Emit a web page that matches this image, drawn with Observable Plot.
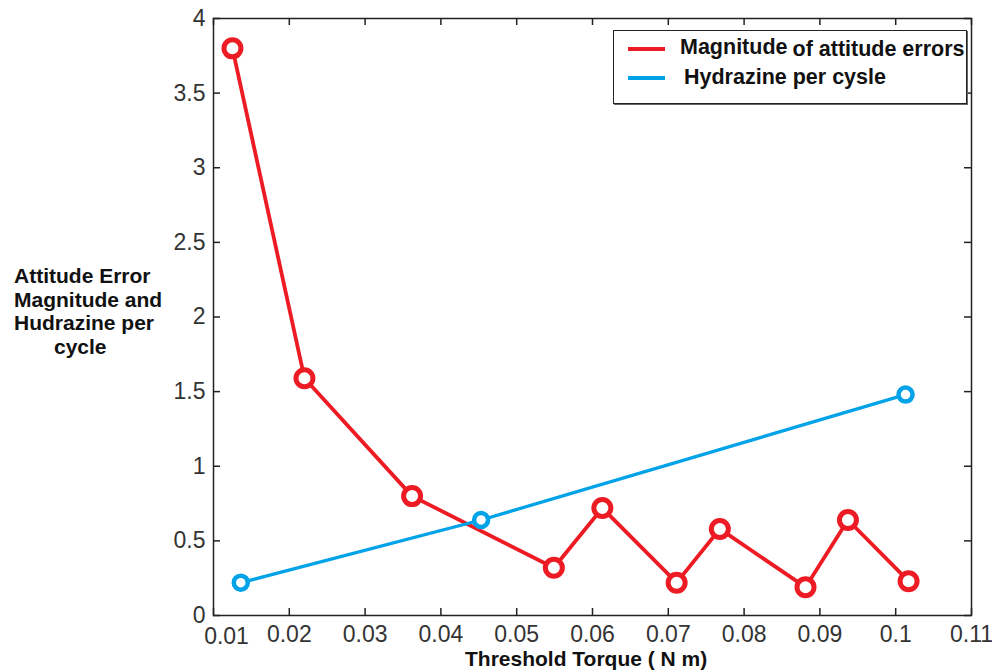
<!DOCTYPE html>
<html>
<head>
<meta charset="utf-8">
<script src="https://cdn.jsdelivr.net/npm/d3@7"></script>
<script src="https://cdn.jsdelivr.net/npm/@observablehq/plot@0.6"></script>
<style>
  html, body { margin: 0; padding: 0; background: #fff; }
  #wrap { position: relative; width: 992px; height: 672px; overflow: hidden; font-family: "Liberation Sans", Arial, sans-serif; }
  #chart { position: absolute; left: 0; top: 0; }
  .lbl { position: absolute; font-weight: bold; color: #111; white-space: nowrap; font-size: 21px; }
  .leg { font-size: 21.5px; }
  #legend { position: absolute; left: 613px; top: 30px; width: 352px; height: 72px; border: 1.5px solid #222; box-shadow: 1px 1px 0 #666; background: #fff; }
  .swatch { position: absolute; left: 14px; width: 37px; height: 4px; }
</style>
</head>
<body>
<div id="wrap">
  <div id="chart"></div>
  <div class="lbl" style="left:14px; top:264px; line-height:23.7px;">Attitude Error<br>Magnitude and<br>Hudrazine per<br><span style="padding-left:40px">cycle</span></div>
  <div class="lbl" style="left:465px; top:647px;">Threshold Torque ( N m)</div>
  <div id="legend">
    <div class="swatch" style="top:16px; background:#ed1c24;"></div>
    <div class="lbl leg" style="left:66px; top:4px;">Magnitude<span style="position:relative; top:2px; margin-left:5px;">of attitude errors</span></div>
    <div class="swatch" style="top:45px; background:#00a2e8;"></div>
    <div class="lbl leg" style="left:70px; top:34px;">Hydrazine per cysle</div>
  </div>
</div>
<script>
// Data
const xTicks = [0.01, 0.02, 0.03, 0.04, 0.05, 0.06, 0.07, 0.08, 0.09, 0.10, 0.11];
const xTickLabels = ["0.01", "0.02", "0.03", "0.04", "0.05", "0.06", "0.07", "0.08", "0.09", "0.1", "0.11"];
const yTicks = [0, 0.5, 1, 1.5, 2, 2.5, 3, 3.5, 4];
const yTickLabels = ["0", "0.5", "1", "1.5", "2", "2.5", "3", "3.5", "4"];

const errorTorque = [0.0125, 0.0220, 0.0362, 0.0549, 0.0613, 0.0711, 0.0768, 0.0881, 0.0937, 0.1017];
const errorMagnitude = [3.80, 1.59, 0.80, 0.32, 0.72, 0.22, 0.58, 0.19, 0.64, 0.23];

const hydrazineTorque = [0.0136, 0.0453, 0.1013];
const hydrazinePerCycle = [0.22, 0.64, 1.48];

const errorData = errorTorque.map((x, i) => ({x, y: errorMagnitude[i]}));
const hydrazineData = hydrazineTorque.map((x, i) => ({x, y: hydrazinePerCycle[i]}));

const W = 992, H = 672, mL = 213, mR = 21, mT = 18, mB = 57;
const plotH = H - mT - mB, plotW = W - mL - mR;
const tickLen = 7;
const red = "#ed1c24", blue = "#00a2e8", ink = "#222";

const chart = Plot.plot({
  width: W, height: H,
  marginLeft: mL, marginRight: mR, marginTop: mT, marginBottom: mB,
  x: {domain: [0.01, 0.11]},
  y: {domain: [0, 4]},
  style: {fontFamily: "'Liberation Sans', Arial, sans-serif", fontSize: "23px", color: "#333", background: "transparent"},
  marks: [
    Plot.frame({stroke: ink, strokeWidth: 1.5}),
    // inward ticks (bottom/top)
    Plot.tickX(xTicks, {x: d => d, insetTop: plotH - tickLen, stroke: ink, strokeWidth: 1.5}),
    Plot.tickX(xTicks, {x: d => d, insetBottom: plotH - tickLen, stroke: ink, strokeWidth: 1.5}),
    // inward ticks (left/right)
    Plot.tickY(yTicks, {y: d => d, insetRight: plotW - tickLen, stroke: ink, strokeWidth: 1.5}),
    Plot.tickY(yTicks, {y: d => d, insetLeft: plotW - tickLen, stroke: ink, strokeWidth: 1.5}),
    // first x label sits a little right of / below its tick, as in the reference
    Plot.axisX(xTicks.slice(0, 1), {tickSize: 0, tickPadding: 12, dx: 13, tickFormat: () => xTickLabels[0], label: null, fill: "#333"}),
    Plot.axisX(xTicks.slice(1), {tickSize: 0, tickPadding: 10, tickFormat: (d, i) => xTickLabels[i + 1], label: null, fill: "#333"}),
    Plot.axisY(yTicks, {tickSize: 0, tickPadding: 8, tickFormat: (d, i) => yTickLabels[i], label: null, fill: "#333"}),
    Plot.line(errorData, {x: "x", y: "y", stroke: red, strokeWidth: 3.8}),
    Plot.line(hydrazineData, {x: "x", y: "y", stroke: blue, strokeWidth: 3.3}),
    Plot.dot(errorData, {x: "x", y: "y", r: 8.5, stroke: red, strokeWidth: 5, fill: "white"}),
    Plot.dot(hydrazineData, {x: "x", y: "y", r: 7, stroke: blue, strokeWidth: 4.5, fill: "white"})
  ]
});
document.getElementById("chart").appendChild(chart);
</script>
</body>
</html>
